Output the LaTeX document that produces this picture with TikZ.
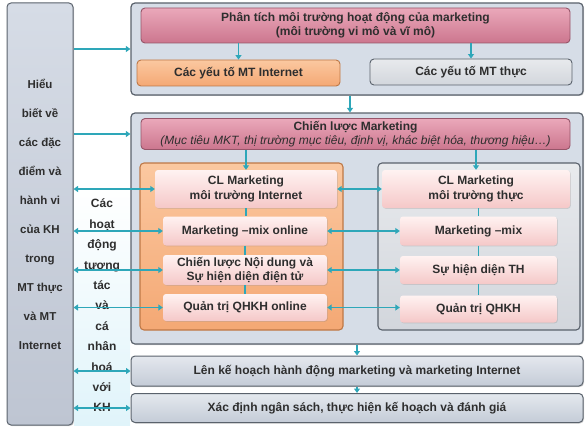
\documentclass[tikz,border=0pt]{standalone}
\usepackage{fontspec}
\setmainfont{Liberation Sans}
\usetikzlibrary{arrows.meta,shadows}

\definecolor{teal1}{HTML}{2EA7B9}
\definecolor{txt}{HTML}{2E2E2E}
\definecolor{frame}{HTML}{5A626C}

\tikzset{
  box/.style={rounded corners=4pt, text=txt, align=center, inner sep=0pt,
    font=\fontsize{12}{14.5}\selectfont\bfseries},
  outerbox/.style={box, draw=frame, line width=1.2pt, fill={rgb,255:red,214;green,221;blue,231},
    drop shadow={opacity=0.35, shadow xshift=1pt, shadow yshift=-1pt}},
  pinkbox/.style={box, draw={rgb,255:red,150;green,85;blue,105}, line width=0.9pt,
    top color={rgb,255:red,234;green,168;blue,186}, bottom color={rgb,255:red,204;green,118;blue,142}},
  orangebox/.style={box, draw={rgb,255:red,190;green,120;blue,70}, line width=0.9pt,
    top color={rgb,255:red,251;green,200;blue,160}, bottom color={rgb,255:red,244;green,168;blue,116}},
  greybox/.style={box, draw=frame, line width=0.9pt,
    top color={rgb,255:red,232;green,234;blue,237}, bottom color={rgb,255:red,210;green,214;blue,220}},
  innerbox/.style={box, rounded corners=3pt,
    top color={rgb,255:red,255;green,242;blue,241}, bottom color={rgb,255:red,245;green,200;blue,200},
    drop shadow={opacity=0.25, shadow xshift=0.8pt, shadow yshift=-0.8pt}},
  planbox/.style={box, draw=frame, line width=1pt,
    top color={rgb,255:red,228;green,232;blue,238}, bottom color={rgb,255:red,196;green,203;blue,215},
    drop shadow={opacity=0.35, shadow xshift=1pt, shadow yshift=-1pt}},
  arr/.style={draw=teal1, line width=1.6pt, -{Triangle[length=4.5pt,width=6pt]}},
  darr/.style={draw=teal1, line width=1.6pt, {Triangle[length=4.5pt,width=6pt]}-{Triangle[length=4.5pt,width=6pt]}},
  link/.style={draw=teal1, line width=1.4pt},
}

\begin{document}
\begin{tikzpicture}[x=1pt,y=-1pt]
\useasboundingbox (0,0) rectangle (585,433);

% left column and band
\node[planbox, top color={rgb,255:red,214;green,220;blue,230}, bottom color={rgb,255:red,190;green,197;blue,210},
  minimum width=66pt, minimum height=422pt, font=\fontsize{11.5}{29}\selectfont\bfseries]
  (hieu) at (40,214) {Hiểu\\biết về\\các đặc\\điểm và\\hành vi\\của KH\\trong\\MT thực\\và MT\\Internet};
\node[inner sep=0pt, top color=white, bottom color={rgb,255:red,224;green,244;blue,250},
  minimum width=56pt, minimum height=239pt, align=center, text=txt,
  font=\fontsize{12}{20.4}\selectfont\bfseries]
  (tuongtac) at (102,305.5) {Các\\hoạt\\động\\tương\\tác\\và\\cá\\nhân\\hoá\\với\\KH};

% environment analysis
\node[outerbox, minimum width=452pt, minimum height=92pt] (moitruong) at (357,49) {};
\node[pinkbox, minimum width=429pt, minimum height=35pt] (phantich) at (355.5,25.5)
  {Phân tích môi trường hoạt động của marketing\\(môi trường vi mô và vĩ mô)};
\node[orangebox, minimum width=203pt, minimum height=26pt] (ytnet) at (238.5,73) {Các yếu tố MT Internet};
\node[greybox, minimum width=202pt, minimum height=26pt] (ytthuc) at (471,72) {Các yếu tố MT thực};

% strategy
\node[outerbox, minimum width=452pt, minimum height=231pt] (chienluoc) at (357,228.5) {};
\node[pinkbox, minimum width=429pt, minimum height=31pt] (clm) at (355.5,134)
  {Chiến lược Marketing\\{\mdseries\itshape (Mục tiêu MKT, thị trường mục tiêu, định vị, khác biệt hóa, thương hiệu…)}};
\node[orangebox, minimum width=203pt, minimum height=167pt, line width=1.1pt] (khnet) at (241.5,246.5) {};
\node[greybox, minimum width=202pt, minimum height=167pt, line width=1.1pt] (khthuc) at (479,246.5) {};

\node[innerbox, minimum width=182pt, minimum height=38pt] (clnet) at (246,189) {CL Marketing\\môi trường Internet};
\node[innerbox, minimum width=164pt, minimum height=29pt] (mixnet) at (245,231) {Marketing –mix online};
\node[innerbox, minimum width=164pt, minimum height=30pt] (ndnet) at (245,270) {Chiến lược Nội dung và\\Sự hiện diện điện tử};
\node[innerbox, minimum width=164pt, minimum height=27pt] (qhnet) at (245,307.5) {Quản trị QHKH online};

\node[innerbox, minimum width=188pt, minimum height=38pt] (clthuc) at (476,189) {CL Marketing\\môi trường thực};
\node[innerbox, minimum width=157pt, minimum height=29pt] (mixthuc) at (478.5,231) {Marketing –mix};
\node[innerbox, minimum width=157pt, minimum height=28pt] (hdthuc) at (478.5,270) {Sự hiện diện TH};
\node[innerbox, minimum width=157pt, minimum height=27pt] (qhthuc) at (478.5,309) {Quản trị QHKH};

% plan and budget
\node[planbox, minimum width=452pt, minimum height=30pt] (kehoach) at (357,371) {Lên kế hoạch hành động marketing và marketing Internet};
\node[planbox, minimum width=452pt, minimum height=29pt] (ngansach) at (357,408) {Xác định ngân sách, thực hiện kế hoạch và đánh giá};

% arrows
\path[arr] (phantich.south -| ytnet) -- (ytnet.north);
\path[arr] (phantich.south -| ytthuc) -- (ytthuc.north);
\path[arr] ([xshift=-7pt]moitruong.south) -- ([xshift=-7pt]chienluoc.north);
\path[arr] (clm.south -| clnet) -- (clnet.north);
\path[arr] (clm.south -| clthuc) -- (clthuc.north);
\path[arr] (chienluoc.south) -- (kehoach.north);
\path[arr] (kehoach.south) -- (ngansach.north);

\path[arr] (hieu.east |- moitruong.west) -- (moitruong.west);
\path[arr] (hieu.east |- clm) -- (chienluoc.west |- clm);

\path[darr] (hieu.east |- clnet) -- (clnet.west);
\path[darr] (hieu.east |- mixnet) -- (mixnet.west);
\path[darr] (hieu.east |- ndnet) -- (ndnet.west);
\path[darr] (hieu.east |- qhnet) -- (qhnet.west);
\path[darr] (hieu.east |- kehoach) -- (kehoach.west);
\path[darr] (hieu.east |- ngansach) -- (ngansach.west);

\path[darr] (clnet.east) -- (clnet.east -| clthuc.west);
\path[darr] (mixnet.east) -- (mixnet.east -| mixthuc.west);
\path[darr] (ndnet.east) -- (ndnet.east -| hdthuc.west);
\path[darr] (qhnet.east) -- (qhnet.east -| qhthuc.west);

\path[link] (clnet.south) -- (clnet.south |- mixnet.north);
\path[link] (mixnet.south) -- (ndnet.north);
\path[link] (ndnet.south) -- (qhnet.north);
\path[link] (clthuc.south -| mixthuc) -- (mixthuc.north);
\path[link] (mixthuc.south) -- (hdthuc.north);
\path[link] (hdthuc.south) -- (qhthuc.north);
\end{tikzpicture}
\end{document}
